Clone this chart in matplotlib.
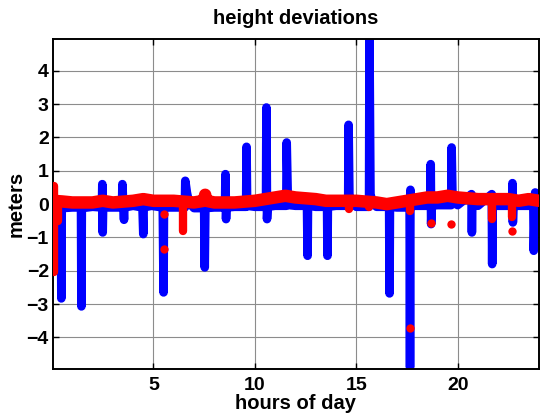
import matplotlib
matplotlib.use('Agg')
import matplotlib.pyplot as plt

# blue: raw height deviations (hours, meters)
blue_t = [0.07, 0.30, 0.44, 0.46, 0.48, 1.0, 1.43, 1.45, 1.47, 2.0,
          2.46, 2.48, 2.50, 2.52, 3.0, 3.45, 3.47, 3.52, 3.55, 3.57,
          4.0, 4.46, 4.50, 4.52, 4.9, 5.46, 5.50, 5.52, 6.0, 6.55,
          6.57, 6.65, 6.75, 7.0, 7.50, 7.53, 7.56, 8.0, 8.53, 8.55,
          8.58, 8.60, 9.0, 9.57, 9.59, 9.62, 10.0, 10.55, 10.57, 10.60,
          10.63, 11.0, 11.55, 11.57, 11.62, 11.70, 12.0, 12.57, 12.60, 12.62,
          13.0, 13.56, 13.58, 13.60, 14.0, 14.60, 14.62, 14.66, 14.75, 15.0,
          15.63, 15.65, 15.70, 15.80, 16.0, 16.62, 16.64, 16.66, 17.0, 17.63,
          17.65, 17.67, 17.70, 18.0, 18.65, 18.67, 18.69, 18.72, 19.0, 19.68,
          19.70, 19.74, 19.80, 20.0, 20.68, 20.70, 20.72, 21.0, 21.68, 21.70,
          21.72, 22.0, 22.68, 22.70, 22.72, 22.75, 23.0, 23.73, 23.75, 23.82,
          23.85, 24.0]
blue_v = [-0.10, -0.10, -0.10, -2.83, -0.12, -0.10, -0.10, -3.07, -0.12, -0.08,
          -0.10, 0.60, -0.85, -0.10, -0.10, -0.10, 0.60, -0.12, -0.47, -0.10,
          -0.05, -0.10, -0.90, -0.10, -0.05, -0.10, -2.65, -0.10, -0.10, -0.10,
          0.70, 0.35, 0.05, -0.12, -0.12, -1.90, -0.12, -0.10, -0.10, 0.90,
          -0.45, -0.10, -0.08, -0.08, 1.72, -0.05, -0.08, -0.08, 2.90, -0.45,
          -0.08, -0.05, -0.05, 1.85, 0.30, -0.03, -0.05, -0.05, -1.55, -0.05,
          -0.08, -0.08, -1.55, -0.08, -0.05, -0.05, 2.38, 0.30, 0.05, -0.08,
          -0.08, 4.95, 0.30, 0.05, -0.08, -0.08, -2.68, -0.08, -0.10, -0.10,
          -4.90, 0.43, -0.05, -0.05, -0.05, 1.20, -0.60, -0.05, -0.03, -0.03,
          1.70, 0.30, 0.05, -0.03, 0.30, -0.85, -0.03, -0.05, 0.30, -1.80,
          -0.05, -0.05, -0.05, 0.63, -0.55, -0.05, -0.05, -0.05, -1.40, 0.35,
          -0.05, -0.05]

# red: corrected height deviations (smooth part)
red_t = [0.05, 0.5, 1.0, 2.0, 2.5, 3.0, 4.0, 4.5, 5.0, 5.5,
         6.0, 7.0, 7.5, 7.55, 7.6, 8.0, 9.0, 10.0, 10.5, 11.0,
         11.5, 12.0, 13.0, 13.5, 14.0, 15.0, 16.0, 16.5, 17.0, 17.5,
         18.0, 18.5, 19.0, 19.5, 20.0, 21.0, 22.0, 22.5, 23.0, 23.5,
         24.0]
red_v = [0.10, 0.08, 0.05, 0.05, 0.10, 0.05, 0.10, 0.15, 0.10, 0.10,
         0.10, 0.05, 0.10, 0.28, 0.10, 0.05, 0.05, 0.10, 0.15, 0.20,
         0.25, 0.20, 0.15, 0.10, 0.10, 0.10, 0.05, 0.00, 0.05, 0.10,
         0.15, 0.20, 0.20, 0.25, 0.20, 0.15, 0.15, 0.15, 0.10, 0.15,
         0.10]

# short red excursions: time, low end, high end
red_spike_t = [0.09, 0.30, 6.48, 14.62, 15.65, 17.65, 21.70, 22.70]
red_spike_lo = [-2.05, -0.50, -0.80, -0.15, -0.10, -0.20, -0.45, -0.40]
red_spike_hi = [0.55, 0.10, 0.10, 0.05, 0.10, 0.10, 0.20, 0.15]

# isolated red outliers
red_dot_t = [5.5, 5.5, 17.65, 18.67, 19.65, 22.7]
red_dot_v = [-0.30, -1.35, -3.73, -0.57, -0.60, -0.82]

xticks = [5, 10, 15, 20]
yticks = [-4, -3, -2, -1, 0, 1, 2, 3, 4]


def main():
    plt.rcParams['font.family'] = ['Liberation Sans', 'DejaVu Sans']
    plt.rcParams['font.weight'] = 'bold'
    fig = plt.figure(figsize=(5.41, 4.17), dpi=100)
    ax = fig.add_axes([0.098, 0.115, 0.898, 0.791])

    ax.plot(blue_t, blue_v, color='#0000ff', linewidth=6.2,
            solid_capstyle='round', solid_joinstyle='round', zorder=2)
    ax.plot(red_t, red_v, color='#ff0000', linewidth=9,
            solid_capstyle='round', solid_joinstyle='round', zorder=3)
    ax.vlines(red_spike_t, red_spike_lo, red_spike_hi, color='#ff0000',
              linewidth=6, capstyle='round', zorder=3)
    ax.plot(red_dot_t, red_dot_v, 'o', color='#ff0000', markersize=6,
            markeredgewidth=0, zorder=3)

    ax.set_xlim(0.05, 24.0)
    ax.set_ylim(-4.95, 4.95)
    ax.set_xticks(xticks)
    ax.set_yticks(yticks)
    ax.grid(True, color='#8c8c8c', linewidth=0.8, zorder=0)
    ax.set_axisbelow(True)
    ax.tick_params(direction='in', length=4, width=1, top=True, right=True,
                   labelsize=14)
    ax.tick_params(axis='x', pad=6)
    ax.tick_params(axis='y', pad=3)
    for lab in ax.get_xticklabels() + ax.get_yticklabels():
        lab.set_fontweight('bold')
    for s in ax.spines.values():
        s.set_linewidth(1.4)

    ax.set_title('height deviations', fontsize=14.5, fontweight='bold', pad=11)
    ax.set_xlabel('hours of day', fontsize=14.5, fontweight='bold', labelpad=0)
    ax.set_ylabel('meters', fontsize=14.5, fontweight='bold', labelpad=1)

    fig.savefig('out.png', dpi=100)


if __name__ == '__main__':
    main()
